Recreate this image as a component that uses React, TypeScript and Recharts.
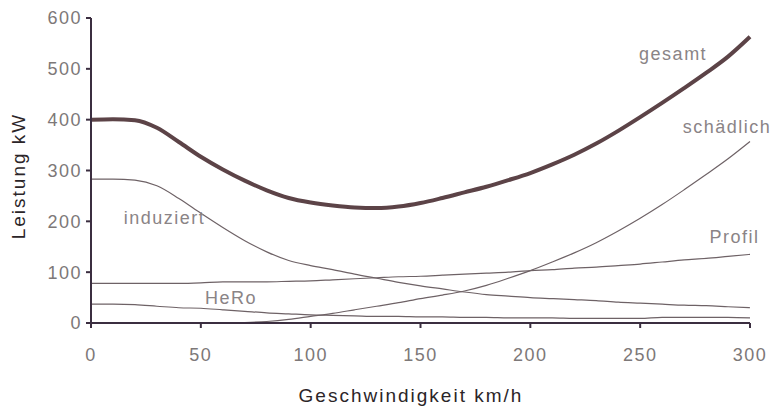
import { LineChart, Line, XAxis, YAxis, ReferenceDot } from "recharts"

const speeds = [0, 10, 20, 30, 40, 50, 60, 70, 80, 90, 100, 110, 120, 130, 140, 150, 160, 170, 180, 190, 200, 210, 220, 230, 240, 250, 260, 270, 280, 290, 300]

const gesamt = [400, 401, 399, 384, 356, 327, 302, 280, 261, 246, 237, 231, 227, 226, 229, 236, 246, 257, 268, 281, 295, 312, 331, 353, 378, 405, 433, 462, 492, 524, 563]
const induziert = [283, 283, 281, 270, 245, 216, 188, 162, 140, 123, 113, 105, 96, 88, 80, 73, 67, 61, 56, 53, 50, 48, 46, 44, 41, 39, 37, 35, 34, 32, 30]
const profil = [78, 78, 78, 78, 78, 79, 81, 81, 81, 82, 83, 85, 87, 89, 91, 92, 94, 96, 98, 100, 103, 105, 108, 110, 113, 116, 120, 124, 127, 131, 135]
const hero = [37, 37, 36, 33, 30, 29, 26, 23, 20, 18, 16, 15, 14, 13, 13, 12, 12, 11, 11, 10, 10, 10, 9, 9, 9, 9, 11, 11, 11, 11, 10]
const schaedlich = [0, 0, 0, 0, 0, 0, 0, 1, 3, 7, 13, 19, 26, 33, 40, 48, 55, 63, 74, 88, 103, 120, 138, 158, 181, 206, 233, 262, 292, 323, 357]

const xTicks = [0, 50, 100, 150, 200, 250, 300]
const yTicks = [0, 100, 200, 300, 400, 500, 600]

// curve labels, anchored in data coordinates
const curveLabels = [
  { text: "gesamt", x: 265, y: 530 },
  { text: "schädlich", x: 289.5, y: 386 },
  { text: "Profil", x: 293, y: 170 },
  { text: "induziert", x: 33.5, y: 207 },
  { text: "HeRo", x: 63.7, y: 49 },
]

const data = speeds.map((v, i) => ({
  v,
  gesamt: gesamt[i],
  induziert: induziert[i],
  profil: profil[i],
  hero: hero[i],
  schaedlich: schaedlich[i],
}))

const font = "'Liberation Sans', Arial, sans-serif"
const axisColor = "#3b2e40"
const thinColor = "#6e6266"
const tick = { fill: "#7d7878", fontSize: 18, letterSpacing: 1.5, fontFamily: font }

export default function App() {
  return (
    <div style={{ position: "absolute", left: 0, top: 0, width: 774, height: 410, background: "#fff" }}>
      <LineChart
        width={774}
        height={410}
        data={data}
        margin={{ top: 18, right: 24, bottom: 37, left: 31 }}
        style={{ fontFamily: font }}
      >
        <XAxis
          dataKey="v"
          type="number"
          domain={[0, 300]}
          ticks={xTicks}
          height={50}
          tickSize={5}
          tickMargin={20}
          axisLine={{ stroke: axisColor, strokeWidth: 2 }}
          tickLine={{ stroke: axisColor, strokeWidth: 2 }}
          tick={tick}
        />
        <YAxis
          type="number"
          domain={[0, 600]}
          ticks={yTicks}
          width={60}
          tickSize={5}
          tickMargin={4}
          axisLine={{ stroke: axisColor, strokeWidth: 2 }}
          tickLine={{ stroke: axisColor, strokeWidth: 2 }}
          tick={tick}
        />
        <Line type="monotone" dataKey="schaedlich" stroke={thinColor} strokeWidth={1.2} dot={false} isAnimationActive={false} />
        <Line type="monotone" dataKey="hero" stroke={thinColor} strokeWidth={1.2} dot={false} isAnimationActive={false} />
        <Line type="monotone" dataKey="profil" stroke={thinColor} strokeWidth={1.2} dot={false} isAnimationActive={false} />
        <Line type="monotone" dataKey="induziert" stroke={thinColor} strokeWidth={1.2} dot={false} isAnimationActive={false} />
        <Line type="monotone" dataKey="gesamt" stroke="#5c4347" strokeWidth={4} dot={false} isAnimationActive={false} />
        {curveLabels.map((l) => (
          <ReferenceDot
            key={l.text}
            x={l.x}
            y={l.y}
            r={0}
            fill="none"
            stroke="none"
            label={{ value: l.text, position: "center", fill: "#8a8486", fontSize: 18, letterSpacing: 1.5, fontFamily: font }}
          />
        ))}
      </LineChart>
      <svg width={774} height={410} style={{ position: "absolute", left: 0, top: 0, pointerEvents: "none" }}>
        <text
          x={20}
          y={176}
          transform="rotate(-90 20 176)"
          textAnchor="middle"
          dominantBaseline="middle"
          fontSize={19}
          letterSpacing={2}
          fill="#2b2528"
          fontFamily={font}
        >
          Leistung kW
        </text>
        <text x={411} y={402} textAnchor="middle" fontSize={19} letterSpacing={2} fill="#2b2528" fontFamily={font}>
          Geschwindigkeit km/h
        </text>
      </svg>
    </div>
  )
}
